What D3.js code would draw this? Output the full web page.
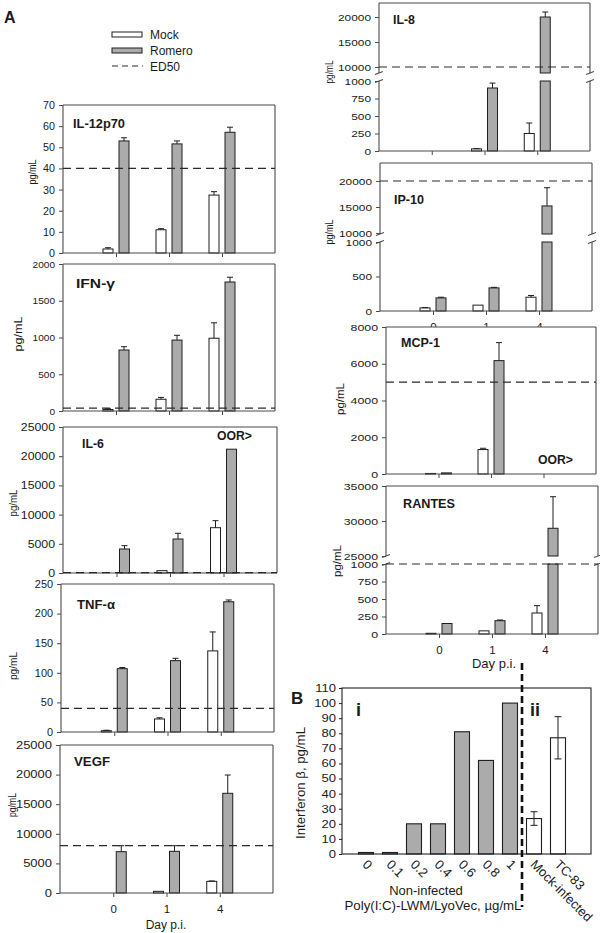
<!DOCTYPE html>
<html><head><meta charset="utf-8">
<script src="https://cdn.jsdelivr.net/npm/d3@7"></script>
<style>
body{margin:0;background:#fff}
svg{display:block}
text{font-family:"Liberation Sans",Arial,Helvetica,sans-serif;fill:#1a1a1a}
</style>
</head><body><svg id="c" width="600" height="933"></svg>
<script>
// ---------------- DATA ----------------
const days = ["0", "1", "4"];
const seriesNames = ["Mock", "Romero", "ED50"];

const il12Mock = [1.9, 11, 27.4],   il12MockSD = [0.6, 0.5, 1.6];
const il12Romero = [53, 51.6, 57.1], il12RomeroSD = [1.5, 1.4, 2.4];
const il12Ed50 = 40;

const ifnMock = [20, 160, 990],     ifnMockSD = [10, 25, 210];
const ifnRomero = [830, 965, 1755], ifnRomeroSD = [45, 65, 65];
const ifnEd50 = 40;

const il6Mock = [0, 400, 7760],      il6MockSD = [0, 0, 1200];
const il6Romero = [4110, 5820, 21200], il6RomeroSD = [570, 980, 0];
const il6Ed50 = 50;

const tnfMock = [2.2, 22, 137],     tnfMockSD = [0.8, 2, 32];
const tnfRomero = [107, 120.5, 220], tnfRomeroSD = [2, 4, 3];
const tnfEd50 = 40;

const vegfMock = [0, 280, 1970],      vegfMockSD = [0, 0, 60];
const vegfRomero = [6980, 7040, 16840], vegfRomeroSD = [1010, 950, 3090];
const vegfEd50 = 8000;

const il8Mock = [0, 30, 250],       il8MockSD = [0, 5, 150];
const il8Romero = [0, 900, 20000],  il8RomeroSD = [0, 70, 1000];
const il8Ed50 = 10000;

const ip10Mock = [45, 85, 200],      ip10MockSD = [5, 0, 25];
const ip10Romero = [190, 335, 15200], ip10RomeroSD = [10, 8, 3500];
const ip10Ed50 = 20000;

const mcpMock = [30, 1330, null],   mcpMockSD = [0, 70, 0];
const mcpRomero = [60, 6170, null], mcpRomeroSD = [0, 980, 0];
const mcpEd50 = 5000;

const rantesMock = [10, 45, 300],      rantesMockSD = [0, 0, 105];
const rantesRomero = [150, 190, 28960], rantesRomeroSD = [0, 10, 4510];
const rantesEd50 = 1000;

// Panel B
const bCats = ["0", "0.1", "0.2", "0.4", "0.6", "0.8", "1", "Mock-infected", "TC-83"];
const bVals = [1, 1, 20, 20, 81, 62, 100, 23.5, 77];
const bSD   = [0, 0, 0, 0, 0, 0, 0, 4.5, 14];
const bGroup = ["i", "i", "i", "i", "i", "i", "i", "ii", "ii"];
const bTicks = d3.range(0, 111, 10);

// ---------------- STYLE / LAYOUT ----------------
const GRAY = "#ababab", STROKE = "#1e1e1e", FRAME = "#4a4a4a";
const svg = d3.select("#c");

function txt(g, x, y, s, o = {}) {
  const t = g.append("text").attr("x", x).attr("y", y).text(s)
    .attr("font-size", o.fs || 11)
    .attr("text-anchor", o.anchor || "start")
    .attr("font-weight", o.bold ? "bold" : "normal");
  if (o.len) t.attr("textLength", o.len).attr("lengthAdjust", "spacingAndGlyphs");
  if (o.rot) t.attr("transform", `rotate(${o.rot},${x},${y})`);
  if (o.dy) t.attr("dy", o.dy);
  return t;
}

const panels = [
  {name:"IL-12p70", mock:il12Mock, mockSD:il12MockSD, romero:il12Romero, romeroSD:il12RomeroSD, ed50:il12Ed50,
   x0:63, x1:275, yTop:105, yBot:253, max:70, ticks:d3.range(0,71,10), fs:10.7, sx:1.0,
   title:[73,127.6,52], ylab:[32,172,25]},
  {name:"IFN-γ", mock:ifnMock, mockSD:ifnMockSD, romero:ifnRomero, romeroSD:ifnRomeroSD, ed50:ifnEd50,
   x0:63, x1:275, yTop:264, yBot:411, max:2000, ticks:d3.range(0,2001,500), fs:9.6, sx:1.05,
   title:[76,288,39], ylab:[18,334,35]},
  {name:"IL-6", mock:il6Mock, mockSD:il6MockSD, romero:il6Romero, romeroSD:il6RomeroSD, ed50:il6Ed50,
   x0:63, x1:277, yTop:427, yBot:573, max:25000, ticks:d3.range(0,25001,5000), fs:10.7, sx:1.15,
   title:[82,447.5,22], ylab:[13,503,27], oor:[217,440,35]},
  {name:"TNF-α", mock:tnfMock, mockSD:tnfMockSD, romero:tnfRomero, romeroSD:tnfRomeroSD, ed50:tnfEd50,
   x0:61, x1:274, yTop:584, yBot:732, max:250, ticks:d3.range(0,251,50), fs:10.4, sx:1.05,
   title:[77,609,38], ylab:[13,666,28]},
  {name:"VEGF", mock:vegfMock, mockSD:vegfMockSD, romero:vegfRomero, romeroSD:vegfRomeroSD, ed50:vegfEd50,
   x0:60, x1:273, yTop:745, yBot:893, max:25000, ticks:d3.range(0,25001,5000), fs:10, sx:1.3,
   title:[74,765.5,36], ylab:[12,805,24], xlabels:true, dayLab:[166,929,12]},
  {name:"IL-8", mock:il8Mock, mockSD:il8MockSD, romero:il8Romero, romeroSD:il8RomeroSD, ed50:il8Ed50,
   x0:379, x1:590, yTop:3, yBot:151, fs:9.5, sx:1.25,
   brk:{lowMax:1000, lowTopY:81, upMin:8800, upMax:22800, upBotY:73,
        lowTicks:[0,250,500,750,1000], upTicks:[10000,15000,20000]},
   title:[393,24,22], ylab:[329,72,23]},
  {name:"IP-10", mock:ip10Mock, mockSD:ip10MockSD, romero:ip10Romero, romeroSD:ip10RomeroSD, ed50:ip10Ed50,
   x0:380, x1:592, yTop:163, yBot:311, fs:9.5, sx:1.25,
   brk:{lowMax:1000, lowTopY:242, upMin:9800, upMax:23460, upBotY:234,
        lowTicks:[0,500,1000], upTicks:[10000,15000,20000]},
   title:[394,204,30], ylab:[329,232,25], xlabels:true},
  {name:"MCP-1", mock:mcpMock, mockSD:mcpMockSD, romero:mcpRomero, romeroSD:mcpRomeroSD, ed50:mcpEd50,
   x0:386, x1:596, yTop:327, yBot:474, max:8000, ticks:d3.range(0,8001,2000), fs:9.5, sx:1.3,
   title:[401,347,39], ylab:[340,399,32], oor:[538,464,35]},
  {name:"RANTES", mock:rantesMock, mockSD:rantesMockSD, romero:rantesRomero, romeroSD:rantesRomeroSD, ed50:rantesEd50,
   x0:386, x1:598, yTop:486, yBot:634, fs:9.5, sx:1.3,
   brk:{lowMax:1000, lowTopY:564, upMin:25000, upMax:35000, upBotY:556,
        lowTicks:[0,250,500,750,1000], upTicks:[25000,30000,35000]},
   title:[403,507.5,52], ylab:[337,561,32], xlabels:true, dayLab:[494,668,13]}
];

function styleAxis(ag, p, off) {
  ag.select(".domain").remove();
  ag.selectAll("line").attr("stroke", FRAME);
  ag.selectAll("text").attr("font-size", p.fs).attr("fill", "#1a1a1a")
    .attr("font-family", '"Liberation Sans",Arial,sans-serif')
    .attr("x", -off / p.sx).attr("transform", `scale(${p.sx},1)`);
}

function drawPanel(p) {
  const g = svg.append("g");
  g.append("rect").attr("x", p.x0).attr("y", p.yTop).attr("width", p.x1 - p.x0)
    .attr("height", p.yBot - p.yTop).attr("fill", "#fff");
  const x = d3.scaleLinear().domain([-1, 3]).range([p.x0, p.x1]);
  let yLow, yUp = null;
  if (p.brk) {
    yLow = d3.scaleLinear().domain([0, p.brk.lowMax]).range([p.yBot, p.brk.lowTopY]);
    yUp = d3.scaleLinear().domain([p.brk.upMin, p.brk.upMax]).range([p.brk.upBotY, p.yTop]);
  } else {
    yLow = d3.scaleLinear().domain([0, p.max]).range([p.yBot, p.yTop]);
  }
  const isUp = v => yUp && v > p.brk.lowMax;
  const y = v => isUp(v) ? yUp(v) : yLow(v);

  // y axes
  if (p.brk) {
    const a1 = g.append("g").attr("transform", `translate(${p.x0},0)`)
      .call(d3.axisLeft(yLow).tickValues(p.brk.lowTicks).tickSize(4).tickSizeOuter(0).tickFormat(d3.format("d")));
    styleAxis(a1, p, 8);
    const a2 = g.append("g").attr("transform", `translate(${p.x0},0)`)
      .call(d3.axisLeft(yUp).tickValues(p.brk.upTicks).tickSize(4).tickSizeOuter(0).tickFormat(d3.format("d")));
    styleAxis(a2, p, 8);
  } else {
    const a = g.append("g").attr("transform", `translate(${p.x0},0)`)
      .call(d3.axisLeft(yLow).tickValues(p.ticks).tickSize(4).tickSizeOuter(0).tickFormat(d3.format("d")));
    styleAxis(a, p, 8);
  }
  // x axis
  const xa = g.append("g").attr("transform", `translate(0,${p.yBot})`)
    .call(d3.axisBottom(x).tickValues([0, 1, 2]).tickSize(4).tickSizeOuter(0).tickPadding(8)
      .tickFormat(i => p.xlabels ? days[i] : ""));
  xa.select(".domain").remove();
  xa.selectAll("line").attr("stroke", FRAME);
  xa.selectAll("text").attr("font-size", 11.5).attr("fill", "#1a1a1a")
    .attr("font-family", '"Liberation Sans",Arial,sans-serif');

  // bars
  const series = [
    {vals: p.mock, sd: p.mockSD, fill: "#fff", off: -8},
    {vals: p.romero, sd: p.romeroSD, fill: GRAY, off: 8}
  ];
  const bw = 10;
  series.forEach(s => {
    s.vals.forEach((v, i) => {
      if (v == null) return;
      const cx = x(i) + s.off;
      const rect = (top, bot) => g.append("rect").attr("x", cx - bw / 2).attr("y", top)
        .attr("width", bw).attr("height", Math.max(0, bot - top))
        .attr("fill", s.fill).attr("stroke", STROKE).attr("stroke-width", 1);
      if (v <= 0) return;
      if (isUp(v)) {
        rect(yLow(p.brk.lowMax), yLow(0));
        rect(yUp(v), yUp(p.brk.upMin));
      } else {
        rect(yLow(v), yLow(0));
      }
      const sd = s.sd[i];
      if (sd > 0) {
        const y1 = y(v), y2 = y(v + sd);
        g.append("line").attr("x1", cx).attr("x2", cx).attr("y1", y1).attr("y2", y2)
          .attr("stroke", STROKE).attr("stroke-width", 1);
        g.append("line").attr("x1", cx - 3).attr("x2", cx + 3).attr("y1", y2).attr("y2", y2)
          .attr("stroke", STROKE).attr("stroke-width", 1);
      }
    });
  });

  // frame
  const fl = (x1, y1, x2, y2) => g.append("line").attr("x1", x1).attr("y1", y1).attr("x2", x2).attr("y2", y2)
    .attr("stroke", FRAME).attr("stroke-width", 1.1);
  fl(p.x0, p.yTop, p.x1, p.yTop);
  fl(p.x0, p.yBot, p.x1, p.yBot);
  if (p.brk) {
    [p.x0, p.x1].forEach(xx => {
      fl(xx, p.yTop, xx, p.brk.upBotY);
      fl(xx, p.brk.lowTopY, xx, p.yBot);
      fl(xx - 4, p.brk.upBotY + 1.5, xx + 4, p.brk.upBotY - 1.5);
      fl(xx - 4, p.brk.lowTopY + 1.5, xx + 4, p.brk.lowTopY - 1.5);
    });
  } else {
    fl(p.x0, p.yTop, p.x0, p.yBot);
    fl(p.x1, p.yTop, p.x1, p.yBot);
  }

  // ED50
  const ey = y(p.ed50);
  g.append("line").attr("x1", p.x0).attr("x2", p.x1).attr("y1", ey).attr("y2", ey)
    .attr("stroke", "#2a2a2a").attr("stroke-width", 1.2).attr("stroke-dasharray", "8,5");

  // labels
  txt(g, p.title[0], p.title[1], p.name, {fs: 12, bold: true, len: p.title[2]});
  txt(g, p.ylab[0], p.ylab[1], "pg/mL", {fs: 10.5, anchor: "middle", rot: -90, dy: "0.35em", len: p.ylab[2]});
  if (p.oor) txt(g, p.oor[0], p.oor[1], "OOR>", {fs: 12, bold: true, len: p.oor[2]});
  if (p.dayLab) txt(g, p.dayLab[0], p.dayLab[1], "Day p.i.", {fs: p.dayLab[2], anchor: "middle"});
}

panels.forEach(drawPanel);

// ---------------- Legend & panel letters ----------------
const lg = svg.append("g");
lg.append("rect").attr("x", 112).attr("y", 32).attr("width", 30).attr("height", 5)
  .attr("fill", "#fff").attr("stroke", STROKE);
lg.append("rect").attr("x", 112).attr("y", 48).attr("width", 30).attr("height", 5)
  .attr("fill", GRAY).attr("stroke", STROKE);
lg.append("line").attr("x1", 112).attr("x2", 143).attr("y1", 66).attr("y2", 66)
  .attr("stroke", "#2a2a2a").attr("stroke-width", 1.2).attr("stroke-dasharray", "6,4");
[39, 55, 70.5].forEach((yy, i) => txt(lg, 150, yy, seriesNames[i], {fs: 12}));
txt(svg, 4, 23, "A", {fs: 16, bold: true});

// ---------------- Panel B ----------------
const gb = svg.append("g");
const B = {x0: 342, x1: 591, yTop: 688, yBot: 854};
gb.append("rect").attr("x", B.x0).attr("y", B.yTop).attr("width", B.x1 - B.x0)
  .attr("height", B.yBot - B.yTop).attr("fill", "#fff");
const xB = d3.scaleLinear().domain([-1, 9.375]).range([B.x0, B.x1]);
const yB = d3.scaleLinear().domain([0, 110]).range([B.yBot, B.yTop]);
const ab = gb.append("g").attr("transform", `translate(${B.x0},0)`)
  .call(d3.axisLeft(yB).tickValues(bTicks).tickSize(3).tickSizeOuter(0));
ab.select(".domain").remove();
ab.selectAll("line").attr("stroke", "#222");
ab.selectAll("text").attr("font-size", 10.7).attr("fill", "#1a1a1a")
  .attr("font-family", '"Liberation Sans",Arial,sans-serif')
  .attr("x", -6 / 1.22).attr("transform", "scale(1.22,1)");

bVals.forEach((v, i) => {
  const cx = xB(i), bw = 15;
  gb.append("rect").attr("x", cx - bw / 2).attr("y", yB(v)).attr("width", bw)
    .attr("height", yB(0) - yB(v)).attr("fill", bGroup[i] === "i" ? GRAY : "#fff")
    .attr("stroke", STROKE).attr("stroke-width", 1.1);
  const sd = bSD[i];
  if (sd > 0) {
    const t = yB(v + sd), b = yB(v - sd);
    gb.append("line").attr("x1", cx).attr("x2", cx).attr("y1", t).attr("y2", b).attr("stroke", STROKE);
    [t, b].forEach(yy => gb.append("line").attr("x1", cx - 3.5).attr("x2", cx + 3.5)
      .attr("y1", yy).attr("y2", yy).attr("stroke", STROKE));
  }
  txt(gb, cx - 1, 862, bCats[i], {fs: 13, rot: 45, dy: "0.35em"});
});
gb.append("rect").attr("x", B.x0).attr("y", B.yTop).attr("width", B.x1 - B.x0)
  .attr("height", B.yBot - B.yTop).attr("fill", "none").attr("stroke", "#222").attr("stroke-width", 1.1);
const sepX = xB(6.5);
gb.append("line").attr("x1", sepX).attr("x2", sepX).attr("y1", 663).attr("y2", 907)
  .attr("stroke", "#111").attr("stroke-width", 2.6).attr("stroke-dasharray", "7,4");
txt(gb, 356, 716, "i", {fs: 18, bold: true});
txt(gb, 530, 716, "ii", {fs: 18, bold: true});
txt(gb, 301, 783, "Interferon β, pg/mL", {fs: 12, anchor: "middle", rot: -90, dy: "0.35em", len: 112});
txt(gb, 426, 895, "Non-infected", {fs: 13, anchor: "middle"});
txt(gb, 433, 910, "Poly(I:C)-LWM/LyoVec, µg/mL", {fs: 12.5, anchor: "middle", len: 177});
txt(svg, 291, 704, "B", {fs: 17, bold: true});
</script>
</body></html>
